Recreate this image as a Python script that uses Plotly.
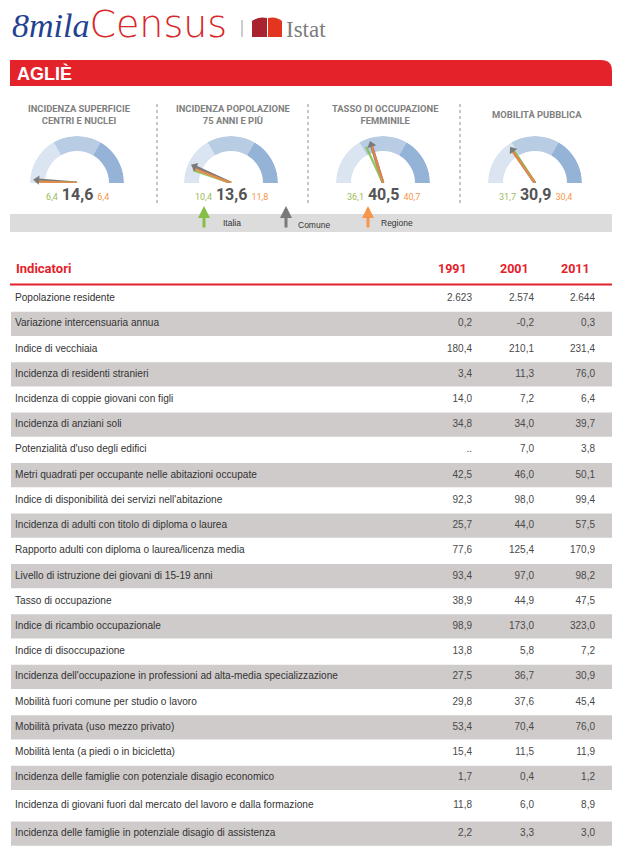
import plotly.graph_objects as go

# ---------------- data ----------------
MUNICIPALITY = "AGLIÈ"

GAUGE_TITLES = [
    "INCIDENZA SUPERFICIE<br>CENTRI E NUCLEI",
    "INCIDENZA POPOLAZIONE<br>75 ANNI E PIÙ",
    "TASSO DI OCCUPAZIONE<br>FEMMINILE",
    "MOBILITÀ PUBBLICA",
]
GAUGE_COMUNE = [14.6, 13.6, 40.5, 30.9]
GAUGE_ITALIA = [6.4, 10.4, 36.1, 31.7]
GAUGE_REGIONE = [6.4, 11.8, 40.7, 30.4]
GAUGE_SCALE_MAX = [600, 100, 100, 100]
LEGEND_LABELS = ["Italia", "Comune", "Regione"]

TABLE_HEADER = "Indicatori"
YEARS = ["1991", "2001", "2011"]
INDICATORS = [
    "Popolazione residente",
    "Variazione intercensuaria annua",
    "Indice di vecchiaia",
    "Incidenza di residenti stranieri",
    "Incidenza di coppie giovani con figli",
    "Incidenza di anziani soli",
    "Potenzialità d'uso degli edifici",
    "Metri quadrati per occupante nelle abitazioni occupate",
    "Indice di disponibilità dei servizi nell'abitazione",
    "Incidenza di adulti con titolo di diploma o laurea",
    "Rapporto adulti con diploma o laurea/licenza media",
    "Livello di istruzione dei giovani di 15-19 anni",
    "Tasso di occupazione",
    "Indice di ricambio occupazionale",
    "Indice di disoccupazione",
    "Incidenza dell'occupazione in professioni ad alta-media specializzazione",
    "Mobilità fuori comune per studio o lavoro",
    "Mobilità privata (uso mezzo privato)",
    "Mobilità lenta (a piedi o in bicicletta)",
    "Incidenza delle famiglie con potenziale disagio economico",
    "Incidenza di giovani fuori dal mercato del lavoro e dalla formazione",
    "Incidenza delle famiglie in potenziale disagio di assistenza",
]
VALUES_1991 = [2623, 0.2, 180.4, 3.4, 14.0, 34.8, None, 42.5, 92.3, 25.7, 77.6,
               93.4, 38.9, 98.9, 13.8, 27.5, 29.8, 53.4, 15.4, 1.7, 11.8, 2.2]
VALUES_2001 = [2574, -0.2, 210.1, 11.3, 7.2, 34.0, 7.0, 46.0, 98.0, 44.0, 125.4,
               97.0, 44.9, 173.0, 5.8, 36.7, 37.6, 70.4, 11.5, 0.4, 6.0, 3.3]
VALUES_2011 = [2644, 0.3, 231.4, 76.0, 6.4, 39.7, 3.8, 50.1, 99.4, 57.5, 170.9,
               98.2, 47.5, 323.0, 7.2, 30.9, 45.4, 76.0, 11.9, 1.2, 8.9, 3.0]

# ---------------- layout / style ----------------
W, H = 617, 849
COND = "Roboto, Liberation Sans, Arial, sans-serif"
SANS = "Liberation Sans, Arial, Helvetica, sans-serif"
RED = "#e4222a"
GREEN_N, ORANGE_N, GRAY_N = "#86bf47", "#f2864a", "#7a7a7a"
GREEN_T, ORANGE_T = "#9bbb59", "#f79646"
BAND_COLORS = ["#dbe5f1", "#b8cce4", "#95b3d7"]

GAUGE_CX = [77, 231, 383, 535]
GAUGE_CY = 183
R_OUT, R_IN = 47, 32

TABLE_TOP = 285
ROW_H = 25.22
TALL_ROW, TALL_H = 20, 30.6
LABEL_X = 15
VALUE_RIGHT = [472, 534, 595]
YEAR_CX = [452, 514, 575]


def fmt(v):
    if v is None:
        return ".."
    if isinstance(v, int):
        return f"{v:,}".replace(",", ".")
    return f"{v:.1f}".replace(".", ",")


fig = go.Figure()
shapes = []
ann = []

# ---------- header ----------
ann.append(dict(x=10, y=24, xanchor="left", yanchor="middle", showarrow=False,
                text="<span style='font-family:Liberation Serif;font-style:italic;color:#23418f;font-size:34px'>8mila</span>"
                     "<span style='font-family:DejaVu Sans;font-weight:200;color:#d8282a'>Census</span>",
                font=dict(size=38)))
shapes.append(dict(type="line", x0=242, x1=242, y0=20, y1=37, line=dict(color="#9a9a9a", width=1)))
shapes.append(dict(type="path", path="M 252,21 Q 259,16 267,18 L 267,37 L 252,37 Z",
                   fillcolor="#a8222f", line=dict(width=0)))
shapes.append(dict(type="path", path="M 268,18 Q 276,16 282,21 L 282,37 L 268,37 Z",
                   fillcolor="#e2361f", line=dict(width=0)))
ann.append(dict(x=284, y=29, xanchor="left", yanchor="middle", showarrow=False,
                text="Istat", font=dict(family="Liberation Serif, DejaVu Serif", size=23, color="#7d7d7d")))

shapes.append(dict(type="path", path="M 10,60 L 601,60 Q 612,60 612,71 L 612,86 L 10,86 Z",
                   fillcolor=RED, line=dict(width=0), layer="below"))
ann.append(dict(x=15, y=73.5, xanchor="left", yanchor="middle", showarrow=False,
                text="<b>" + MUNICIPALITY + "</b>", font=dict(family=SANS, size=18, color="white")))

# ---------- gauges ----------
for sx in [157, 308, 460]:
    shapes.append(dict(type="line", x0=sx, x1=sx, y0=104, y1=204,
                       line=dict(color="#a8a8a8", width=1.3, dash="dot")))

for i, cx in enumerate(GAUGE_CX):
    key = "polar" if i == 0 else f"polar{i + 1}"
    fig.add_trace(go.Barpolar(
        r=[R_OUT - R_IN] * 3, base=[R_IN] * 3, theta=[150, 90, 30], width=[60, 60, 60],
        marker=dict(color=BAND_COLORS, line=dict(width=0)),
        subplot=key, showlegend=False, hoverinfo="skip"))
    mx = GAUGE_SCALE_MAX[i]
    needles = [(GAUGE_COMUNE[i], GRAY_N, 39, 3, 1.0),
               (GAUGE_ITALIA[i], GREEN_N, 40, 2.4, 0.85),
               (GAUGE_REGIONE[i], ORANGE_N, 41, 2.4, 0.85)]
    for val, col, length, lw, op in needles:
        ang = 180 - val / mx * 180
        fig.add_trace(go.Scatterpolar(
            r=[0, length], theta=[ang, ang], mode="lines",
            line=dict(color=col, width=lw), opacity=op,
            subplot=key, showlegend=False, hoverinfo="skip"))
    ang_c = 180 - GAUGE_COMUNE[i] / mx * 180
    fig.add_trace(go.Scatterpolar(
        r=[40], theta=[ang_c], mode="markers",
        marker=dict(symbol="triangle-up", size=8, color=GRAY_N, angle=90 - ang_c),
        subplot=key, showlegend=False, hoverinfo="skip"))
    fig.layout[key] = dict(
        domain=dict(x=[(cx - R_OUT) / W, (cx + R_OUT) / W],
                    y=[1 - GAUGE_CY / H, 1 - (GAUGE_CY - R_OUT) / H]),
        sector=[0, 180], hole=0, bgcolor="rgba(0,0,0,0)",
        radialaxis=dict(visible=False, range=[0, R_OUT]),
        angularaxis=dict(visible=False, rotation=0, direction="counterclockwise"))

    ann.append(dict(x=cx + 2, y=114.5, xanchor="center", yanchor="middle", showarrow=False,
                    text="<b>" + GAUGE_TITLES[i] + "</b>",
                    font=dict(family=COND, size=9.4, color="#7f7f7f")))
    lab = (f"<span style='font-size:9px;font-weight:400;color:{GREEN_T}'>{fmt(GAUGE_ITALIA[i])}</span> "
           f"<b>{fmt(GAUGE_COMUNE[i])}</b> "
           f"<span style='font-size:9px;font-weight:400;color:{ORANGE_T}'>{fmt(GAUGE_REGIONE[i])}</span>")
    ann.append(dict(x=cx, y=194, xanchor="center", yanchor="middle", showarrow=False,
                    text=lab, font=dict(family=COND, size=16, color="#555555")))

# legend band
shapes.append(dict(type="rect", x0=10, x1=612, y0=214, y1=232,
                   fillcolor="#dcdcdc", line=dict(width=0), layer="below"))
leg_arrow_x = [204, 286, 368]
leg_text_x = [221, 296, 379]
leg_text_y = [223, 225, 223]
leg_cols = [GREEN_N, GRAY_N, "#f7954a"]
for lx, tx, ty, col, lbl in zip(leg_arrow_x, leg_text_x, leg_text_y, leg_cols, LEGEND_LABELS):
    ann.append(dict(x=lx, y=206, ax=lx, ay=229, xref="x", yref="y", axref="x", ayref="y",
                    text="", showarrow=True, arrowhead=2, arrowsize=0.8, arrowwidth=3,
                    arrowcolor=col, standoff=0))
    ann.append(dict(x=tx, y=ty, xanchor="left", yanchor="middle", showarrow=False,
                    text=lbl, font=dict(family=SANS, size=8.5, color="#333333")))

# ---------- table ----------
ann.append(dict(x=LABEL_X - 1, y=268, xanchor="left", yanchor="middle", showarrow=False,
                text="<b>" + TABLE_HEADER + "</b>", font=dict(family=COND, size=13, color=RED)))
for yx, yr in zip(YEAR_CX, YEARS):
    ann.append(dict(x=yx, y=268, xanchor="center", yanchor="middle", showarrow=False,
                    text="<b>" + yr + "</b>", font=dict(family=COND, size=12.5, color=RED)))
shapes.append(dict(type="line", x0=10, x1=612, y0=284.5, y1=284.5, line=dict(color=RED, width=2)))

centers = []
top = TABLE_TOP + 1
for i in range(len(INDICATORS)):
    h = TALL_H if i == TALL_ROW else ROW_H
    if i % 2 == 1:
        shapes.append(dict(type="rect", x0=11, x1=612, y0=top + 0.5, y1=top + h - 0.5,
                           fillcolor="#cfcbcb", line=dict(width=0), layer="below"))
    centers.append(top + h / 2)
    top += h

fig.add_trace(go.Scatter(x=[LABEL_X] * len(INDICATORS), y=centers, text=INDICATORS,
                         mode="text", textposition="middle right",
                         textfont=dict(family=SANS, size=10.1, color="#333333"),
                         showlegend=False, hoverinfo="skip"))
for xr, vals in zip(VALUE_RIGHT, [VALUES_1991, VALUES_2001, VALUES_2011]):
    fig.add_trace(go.Scatter(x=[xr] * len(vals), y=centers, text=[fmt(v) for v in vals],
                             mode="text", textposition="middle left",
                             textfont=dict(family=SANS, size=10, color="#4a4a4a"),
                             showlegend=False, hoverinfo="skip"))

for a in ann:
    a.setdefault("xref", "x")
    a.setdefault("yref", "y")
for s in shapes:
    s.setdefault("xref", "x")
    s.setdefault("yref", "y")

fig.update_layout(
    width=W, height=H, margin=dict(l=0, r=0, t=0, b=0),
    paper_bgcolor="white", plot_bgcolor="rgba(0,0,0,0)",
    xaxis=dict(range=[0, W], domain=[0, 1], visible=False, fixedrange=True),
    yaxis=dict(range=[H, 0], domain=[0, 1], visible=False, fixedrange=True),
    shapes=shapes, annotations=ann, showlegend=False,
)
fig.write_html("out.html", config={"displayModeBar": False},
               post_script="document.body.style.margin='0';document.body.style.padding='0';"
                           "document.body.style.overflow='hidden';"
                           "document.documentElement.style.overflow='hidden';")
